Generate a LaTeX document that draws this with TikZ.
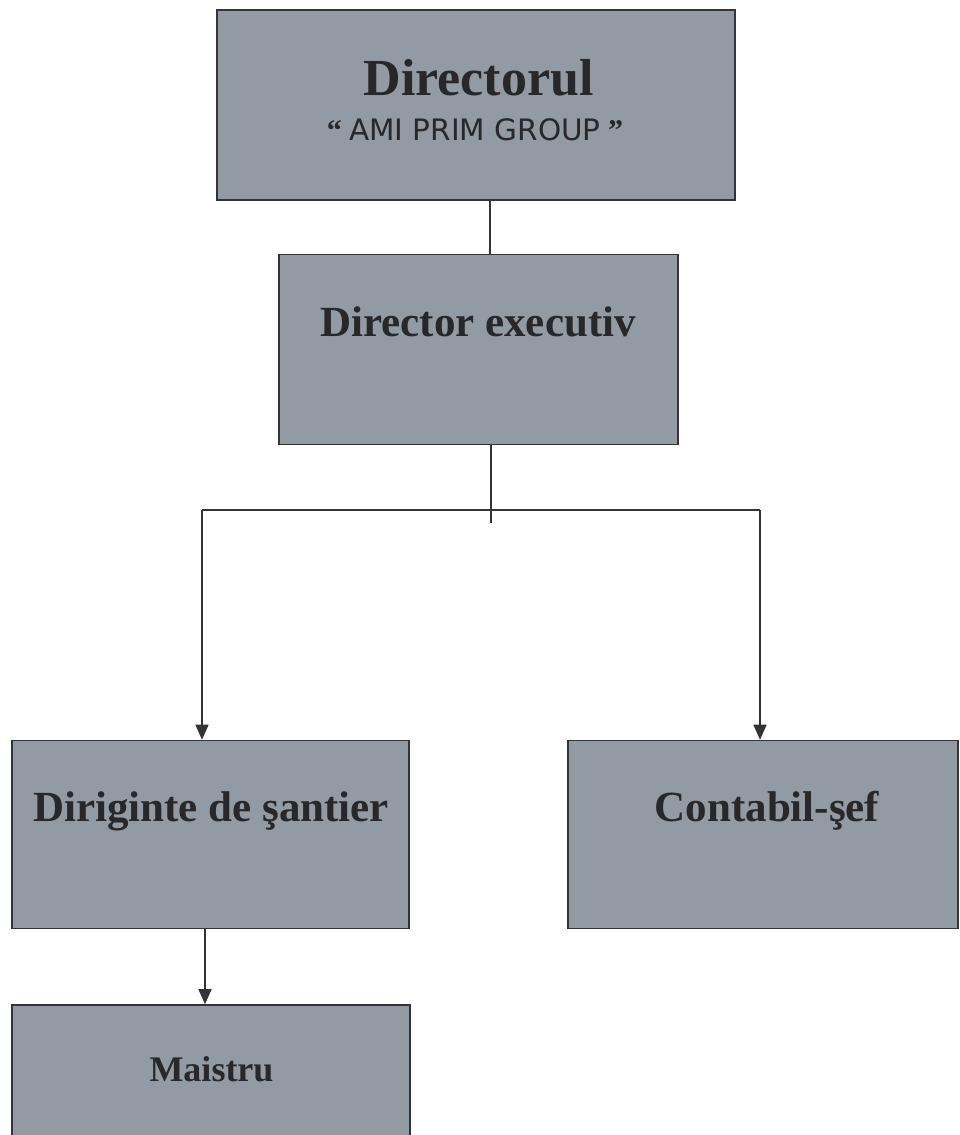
\documentclass[tikz,border=0pt]{standalone}
\usepackage{fontspec}
\setmainfont{Liberation Serif}
\newfontfamily\sansf{DejaVu Sans}
\usetikzlibrary{arrows.meta}
\definecolor{boxfill}{RGB}{146,154,163}
\definecolor{boxline}{RGB}{52,52,56}
\definecolor{txt}{RGB}{40,40,42}
\tikzset{
  box/.style={draw=boxline, fill=boxfill, line width=1.6pt, inner sep=0pt, rectangle},
  lbl/.style={anchor=base, inner sep=0pt, text=txt, font=\bfseries},
  conn/.style={draw=boxline, line width=1.5pt},
  arr/.style={conn, -{Triangle[width=13pt,length=15pt]}}
}
\begin{document}
\begin{tikzpicture}[x=1pt,y=-1pt]
\useasboundingbox[fill=white] (0,0) rectangle (960,1135);
% boxes
\node[box, minimum width=518pt, minimum height=190pt] (dir) at (476,105) {};
\node[box, minimum width=399pt, minimum height=190pt] (exec) at (478.5,349.5) {};
\node[box, minimum width=397pt, minimum height=188pt] (dirig) at (210.5,834.5) {};
\node[box, minimum width=390pt, minimum height=188pt] (cont) at (763,834.5) {};
\node[box, minimum width=398pt, minimum height=150pt] (mai) at (211,1080) {};
% texts
\node[lbl, font=\bfseries\fontsize{52}{60}\selectfont] (tdir) at (478.5,95) {Directorul};
\node[lbl, font=\fontsize{30}{34}\selectfont] (tami) at (475,140) {\bfseries“ {\mdseries\sansf\fontsize{29.5}{34}\selectfont AMI PRIM GROUP} ”};
\node[lbl, font=\bfseries\fontsize{43}{50}\selectfont] (texec) at (478,336) {Director executiv};
\node[lbl, font=\bfseries\fontsize{43}{50}\selectfont] (tdirig) at (211,821) {Diriginte de şantier};
\node[lbl, font=\bfseries\fontsize{43}{50}\selectfont] (tcont) at (767,821) {Contabil-şef};
\node[lbl, font=\bfseries\fontsize{36}{42}\selectfont] (tmai) at (211.5,1081) {Maistru};
% connectors
\coordinate (j1) at (490,510);
\coordinate (stub) at (491,523);
\coordinate (hl) at (202,510);
\coordinate (hr) at (760,510);
\coordinate (dm) at (205,960);
\draw[conn] (dir.south -| j1) -- (exec.north -| j1);
\draw[conn] (exec.south -| stub) -- (stub);
\draw[conn] (hl) -- (hr);
\draw[arr] (hl) -- (dirig.north -| hl);
\draw[arr] (hr) -- (cont.north -| hr);
\draw[arr] (dirig.south -| dm) -- (mai.north -| dm);
\end{tikzpicture}
\end{document}
